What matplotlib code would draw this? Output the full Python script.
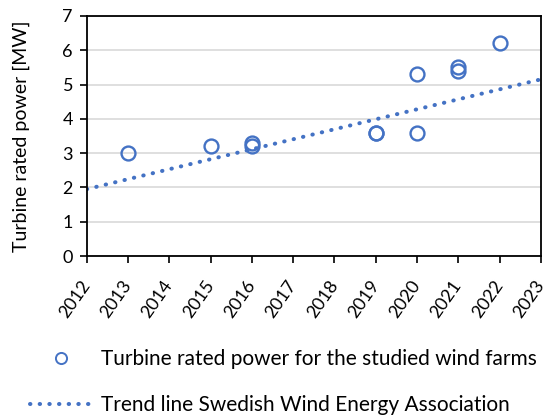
import matplotlib
matplotlib.use("Agg")
import matplotlib.pyplot as plt
from matplotlib.lines import Line2D

plt.rcParams['font.family'] = ['Lato', 'DejaVu Sans']

years = [2013, 2015, 2016, 2016, 2019, 2019, 2020, 2020, 2021, 2021, 2022]
power = [3.0, 3.2, 3.3, 3.2, 3.6, 3.6, 5.3, 3.6, 5.5, 5.4, 6.2]
trend_years = [2012, 2023]
trend_power = [1.95, 5.15]
xticks = list(range(2012, 2024))
yticks = list(range(0, 8))

blue = '#4472C4'
fig = plt.figure(figsize=(5.43, 4.19), dpi=100)
ax = fig.add_axes([0.160, 0.389, 0.836, 0.573])

ax.plot(trend_years, trend_power, color=blue, lw=2.9, linestyle=(0, (0.1, 2.3)),
        dash_capstyle='round', zorder=2)
ax.plot(years, power, linestyle='none', marker='o', markersize=10,
        markerfacecolor='none', markeredgecolor=blue, markeredgewidth=1.7, zorder=3)

ax.set_xlim(2012, 2023)
ax.set_ylim(0, 7)
ax.set_xticks(xticks)
ax.set_yticks(yticks)
ax.set_xticklabels([str(x) for x in xticks], rotation=55, ha='right', va='center',
                   rotation_mode='anchor')
ax.tick_params(axis='both', labelsize=13, direction='out', length=5, width=1.2, color='black')
ax.tick_params(axis='x', pad=14)
ax.tick_params(axis='y', pad=5)
ax.grid(axis='y', color='#d9d9d9', lw=1.2)
ax.set_axisbelow(True)
for s in ax.spines.values():
    s.set_color('black')
    s.set_linewidth(1.3)
ax.set_ylabel('Turbine rated power [MW]', fontsize=14, labelpad=8)
ax.yaxis.set_label_coords(-0.125, 0.5)

h1 = Line2D([], [], linestyle='none', marker='o', markersize=8, markerfacecolor='none',
            markeredgecolor=blue, markeredgewidth=1.4)
h2 = Line2D([], [], color=blue, lw=2.9, linestyle=(0, (0.1, 2.3)), dash_capstyle='round')
fig.legend([h1, h2], ['Turbine rated power for the studied wind farms',
                      'Trend line Swedish Wind Energy Association'],
           loc='upper left', bbox_to_anchor=(0.056, 0.166), frameon=False, fontsize=15,
           handlelength=2.9, handletextpad=0.48, labelspacing=1.22, borderpad=0,
           borderaxespad=0, numpoints=1)

fig.savefig('out.png', dpi=100)
